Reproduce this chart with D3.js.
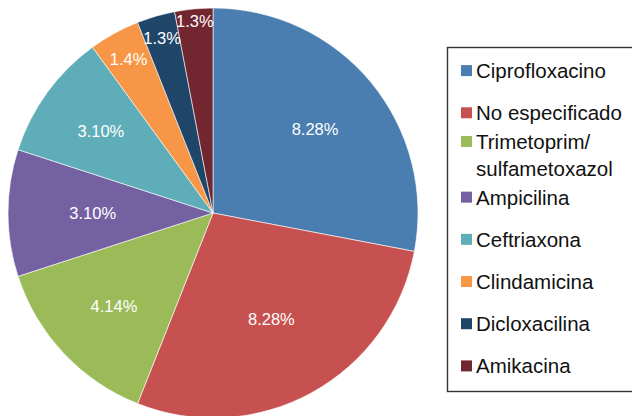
<!DOCTYPE html>
<html>
<head>
<meta charset="utf-8">
<script src="https://cdn.jsdelivr.net/npm/d3@7"></script>
<style>
    body { margin: 0; background: #fff; }
    svg { display: block; }
</style>
</head>
<body>
<svg id="chart"></svg>
<script>
// Antibiotic data
const categories = ['Ciprofloxacino', 'No especificado', 'Trimetoprim/sulfametoxazol', 'Ampicilina',
    'Ceftriaxona', 'Clindamicina', 'Dicloxacilina', 'Amikacina'];
const counts = [8, 8, 4, 3, 3, 1, 1, 1];
const percents = [28, 28, 14, 10, 10, 4, 3, 3];
const sliceLabels = ['8.28%', '8.28%', '4.14%', '3.10%', '3.10%', '1.4%', '1.3%', '1.3%'];

const colors = ['#4a7eb1', '#c75150', '#9bbb59', '#7461a2', '#5eadb8', '#f79646', '#1f4569', '#722630'];
// how far out each slice label sits (fraction of radius)
const labelRadius = [0.646, 0.591, 0.663, 0.587, 0.676, 0.855, 0.89, 0.94];

const width = 632;
const height = 416;
const radius = 205;
const cx = 213, cy = 213;

const svg = d3.select('#chart')
    .attr('width', width)
    .attr('height', height)
    .style('font-family', 'Liberation Sans, Arial, Helvetica, sans-serif');

const pieData = categories.map((name, i) => ({
    name,
    count: counts[i],
    pct: percents[i],
    label: sliceLabels[i],
    color: colors[i],
    lr: labelRadius[i]
}));

const pie = d3.pie()
    .value(d => d.pct)
    .sort(null);

const arc = d3.arc()
    .innerRadius(0)
    .outerRadius(radius);

const g = svg.append('g')
    .attr('transform', `translate(${cx},${cy})`);

g.selectAll('path')
    .data(pie(pieData))
    .enter()
    .append('path')
    .attr('d', arc)
    .attr('fill', d => d.data.color)
    .attr('stroke', 'white')
    .style('stroke-width', '0.6px');

// Slice labels
const labelSize = 16.5;
g.selectAll('text.slice')
    .data(pie(pieData))
    .enter()
    .append('text')
    .attr('class', 'slice')
    .attr('transform', d => {
        const r = radius * d.data.lr;
        const la = d3.arc().innerRadius(r).outerRadius(r);
        const [x, y] = la.centroid(d);
        return `translate(${x},${y + labelSize * 0.36})`;
    })
    .attr('text-anchor', 'middle')
    .attr('fill', 'white')
    .style('font-size', labelSize + 'px')
    .text(d => d.data.label);

// Legend
const legend = svg.append('g').attr('class', 'legend');

legend.append('rect')
    .attr('x', 447.5)
    .attr('y', 47.5)
    .attr('width', 200)
    .attr('height', 344)
    .attr('fill', 'white')
    .attr('stroke', '#333')
    .style('stroke-width', '1.4px');

const ly = d3.scaleBand()
    .domain(categories)
    .range([49.5, 387]);

const legendSize = 20.5;
const lineGap = 27;

const items = legend.selectAll('.legend-item')
    .data(pieData)
    .enter()
    .append('g')
    .attr('class', 'legend-item')
    .attr('transform', d => {
        const lines = d.name.split(/(?<=\/)/);
        const c = ly(d.name) + ly.bandwidth() / 2 - (lines.length - 1) * lineGap / 2;
        return `translate(0, ${c})`;
    });

items.append('rect')
    .attr('x', 461)
    .attr('y', -5.5)
    .attr('width', 11)
    .attr('height', 11)
    .attr('fill', d => d.color);

items.append('text')
    .attr('x', 476)
    .attr('y', legendSize * 0.36)
    .style('font-size', legendSize + 'px')
    .attr('fill', '#111')
    .selectAll('tspan')
    .data(d => d.name.split(/(?<=\/)/))
    .enter()
    .append('tspan')
    .attr('x', 476)
    .attr('dy', (t, i) => i === 0 ? 0 : lineGap)
    .text(t => t);
</script>
</body>
</html>
